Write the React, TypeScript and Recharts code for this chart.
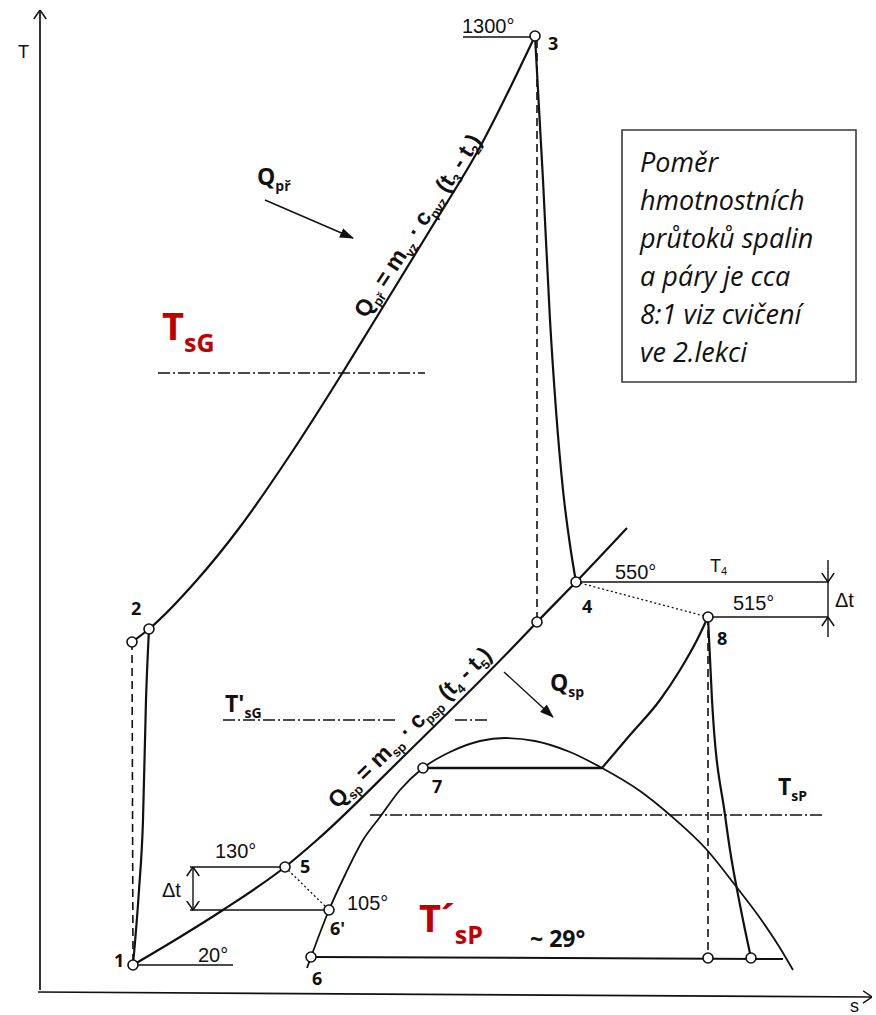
import React from 'react';
import { ComposedChart, Line, Scatter, XAxis, YAxis, ReferenceArea } from 'recharts';

type Pt = { s: number; T: number };
type Tag = Pt & { text: string };
type RichTag = Pt & { base: string; mark: string; sub: string };
type Term = [string, string];

// ---------- Gas turbine (Brayton) cycle, diagram units s / T ----------
const compression12: Pt[] = [
  { s: 133, T: 50 }, { s: 139, T: 125 }, { s: 143, T: 195 }, { s: 146, T: 315 }, { s: 149, T: 386 },
];
const compressionIdeal: Pt[] = [{ s: 132, T: 373 }, { s: 133, T: 55 }];
const combustion23: Pt[] = [
  { s: 132, T: 373 }, { s: 149, T: 386 }, { s: 197, T: 435 }, { s: 240, T: 488 }, { s: 290, T: 560 },
  { s: 343, T: 643 }, { s: 370, T: 687 }, { s: 430, T: 785 }, { s: 480, T: 868 }, { s: 535, T: 979 },
];
const expansion34: Pt[] = [
  { s: 535, T: 979 }, { s: 543, T: 835 }, { s: 550, T: 695 }, { s: 556, T: 605 },
  { s: 563, T: 525 }, { s: 570, T: 470 }, { s: 576, T: 433 },
];
const expansionIdeal: Pt[] = [{ s: 537, T: 975 }, { s: 537, T: 397 }];
const exhaustCooling: Pt[] = [
  { s: 133, T: 50 }, { s: 180, T: 78 }, { s: 223, T: 105 }, { s: 285, T: 148 }, { s: 317, T: 175 },
  { s: 400, T: 255 }, { s: 517, T: 372 }, { s: 537, T: 393 }, { s: 576, T: 433 }, { s: 627, T: 487 },
];

// ---------- Steam (Rankine) cycle ----------
const saturationDome: Pt[] = [
  { s: 307, T: 47 }, { s: 311, T: 58 }, { s: 329, T: 105 }, { s: 345, T: 140 }, { s: 363, T: 175 },
  { s: 380, T: 198 }, { s: 400, T: 225 }, { s: 423, T: 247 }, { s: 450, T: 263 }, { s: 480, T: 274 },
  { s: 505, T: 277 }, { s: 535, T: 274 }, { s: 570, T: 263 }, { s: 602, T: 247 }, { s: 640, T: 224 },
  { s: 670, T: 200 }, { s: 707, T: 165 }, { s: 735, T: 130 }, { s: 760, T: 97 }, { s: 780, T: 67 },
  { s: 793, T: 45 },
];
const evaporation: Pt[] = [{ s: 423, T: 247 }, { s: 602, T: 247 }];
const superheating: Pt[] = [
  { s: 602, T: 247 }, { s: 630, T: 280 }, { s: 660, T: 315 }, { s: 680, T: 345 }, { s: 697, T: 375 }, { s: 708, T: 398 },
];
const steamExpansion: Pt[] = [
  { s: 708, T: 398 }, { s: 712, T: 315 }, { s: 725, T: 200 }, { s: 730, T: 165 }, { s: 740, T: 110 }, { s: 751, T: 57 },
];
const steamExpansionIdeal: Pt[] = [{ s: 708, T: 398 }, { s: 708, T: 57 }];
const condensation: Pt[] = [{ s: 311, T: 58 }, { s: 783, T: 56 }];

// approach / pinch connectors
const approachHot: Pt[] = [{ s: 576, T: 433 }, { s: 708, T: 398 }];
const pinchCold: Pt[] = [{ s: 285, T: 148 }, { s: 329, T: 105 }];

// temperature leaders
const leader1300: Pt[] = [{ s: 463, T: 978 }, { s: 533, T: 978 }];
const leaderT4: Pt[] = [{ s: 578, T: 433 }, { s: 828, T: 433 }];
const leader515: Pt[] = [{ s: 710, T: 398 }, { s: 828, T: 398 }];
const leader130: Pt[] = [{ s: 190, T: 148 }, { s: 283, T: 148 }];
const leader105: Pt[] = [{ s: 190, T: 105 }, { s: 327, T: 105 }];
const leader20: Pt[] = [{ s: 136, T: 50 }, { s: 233, T: 50 }];

// Δt dimension marks
const deltaHotUpper: Pt[] = [{ s: 828, T: 455 }, { s: 828, T: 433 }];
const deltaHotMid: Pt[] = [{ s: 828, T: 433 }, { s: 828, T: 398 }];
const deltaHotLower: Pt[] = [{ s: 828, T: 378 }, { s: 828, T: 398 }];
const deltaCold: Pt[] = [{ s: 193, T: 105 }, { s: 193, T: 148 }];

// mean thermodynamic temperatures
const meanGas: Pt[] = [{ s: 158, T: 642 }, { s: 425, T: 642 }];
const meanExhaustA: Pt[] = [{ s: 223, T: 295 }, { s: 397, T: 295 }];
const meanExhaustB: Pt[] = [{ s: 455, T: 295 }, { s: 490, T: 295 }];
const meanSteam: Pt[] = [{ s: 370, T: 200 }, { s: 823, T: 200 }];

// heat flow arrows
const heatInArrow: Pt[] = [{ s: 265, T: 815 }, { s: 353, T: 777 }];
const heatOutArrow: Pt[] = [{ s: 504, T: 343 }, { s: 553, T: 298 }];

// axes
const axisT: Pt[] = [{ s: 40, T: 25 }, { s: 40, T: 1005 }];
const axisS: Pt[] = [{ s: 38, T: 23 }, { s: 872, T: 18 }];

// state points
const statePoints: Pt[] = [
  { s: 133, T: 50 }, { s: 132, T: 373 }, { s: 149, T: 386 }, { s: 535, T: 979 }, { s: 576, T: 433 },
  { s: 537, T: 393 }, { s: 708, T: 398 }, { s: 285, T: 148 }, { s: 329, T: 105 }, { s: 311, T: 58 },
  { s: 423, T: 247 }, { s: 708, T: 57 }, { s: 751, T: 57 },
];

// ---------- texts ----------
const pointNames: Tag[] = [
  { s: 114, T: 48, text: '1' }, { s: 131, T: 400, text: '2' }, { s: 548, T: 965, text: '3' },
  { s: 582, T: 402, text: '4' }, { s: 300, T: 142, text: '5' }, { s: 330, T: 80, text: "6'" },
  { s: 312, T: 30, text: '6' }, { s: 432, T: 222, text: '7' }, { s: 717, T: 370, text: '8' },
];
const tempLabels: Tag[] = [
  { s: 462, T: 982, text: '1300°' }, { s: 615, T: 436, text: '550°' }, { s: 733, T: 405, text: '515°' },
  { s: 215, T: 157, text: '130°' }, { s: 347, T: 105, text: '105°' }, { s: 198, T: 53, text: '20°' },
  { s: 162, T: 118, text: 'Δt' }, { s: 835, T: 408, text: 'Δt' },
];
const axisNames: Tag[] = [{ s: 18, T: 957, text: 'T' }, { s: 850, T: 3, text: 's' }];
const exhaustTag: RichTag[] = [{ s: 710, T: 443, base: 'T', mark: '', sub: '4' }];
const keyTemps: RichTag[] = [
  { s: 162, T: 675, base: 'T', mark: '', sub: 'sG' },
  { s: 419, T: 83, base: 'T', mark: '´', sub: 'sP' },
];
const symbolTags: RichTag[] = [
  { s: 225, T: 303, base: 'T', mark: "'", sub: 'sG' },
  { s: 778, T: 220, base: 'T', mark: '', sub: 'sP' },
  { s: 257, T: 830, base: 'Q', mark: '', sub: 'př' },
  { s: 550, T: 324, base: 'Q', mark: '', sub: 'sp' },
];
const condenserTemp: Tag[] = [{ s: 530, T: 68, text: '~ 29°' }];

const gasHeatTerms: Term[] = [['Q', 'př'], [' = m', 'vz'], [' · c', 'pvz'], [' (t', '3'], [' - t', '2'], [')', '']];
const exhaustHeatTerms: Term[] = [['Q', 'sp'], [' = m', 'sp'], [' · c', 'psp'], [' (t', '4'], [' - t', '5'], [')', '']];
const formulas = [
  { s: 424, T: 785, id: 'gas', terms: gasHeatTerms },
  { s: 415, T: 282, id: 'exhaust', terms: exhaustHeatTerms },
];

const noteLines: Tag[] = [
  { s: 640, T: 843, text: 'Poměr' },
  { s: 640, T: 805, text: 'hmotnostních' },
  { s: 640, T: 767, text: 'průtoků spalin' },
  { s: 640, T: 729, text: 'a páry je cca' },
  { s: 640, T: 691, text: '8:1 viz cvičení' },
  { s: 640, T: 653, text: 've 2.lekci' },
];

// ---------- styling ----------
const INK = '#111111';
const ACCENT = '#c00000';
const SCAN_FONT = "'Liberation Sans', Arial, sans-serif";
const BOLD_FONT = "'Open Sans', 'Noto Sans', sans-serif";
const TILT: Record<string, number> = { gas: -57, exhaust: -44.5 };

type StrokeOpts = {
  width?: number;
  dash?: string;
  curve?: 'linear' | 'monotoneX';
  head?: string;
  tail?: string;
};

const trace = (key: string, data: Pt[], o: StrokeOpts = {}) => (
  <Line
    key={key}
    data={data}
    dataKey="T"
    type={o.curve ?? 'linear'}
    stroke={INK}
    strokeWidth={o.width ?? 2}
    strokeDasharray={o.dash}
    markerEnd={o.head ? `url(#${o.head})` : undefined}
    markerStart={o.tail ? `url(#${o.tail})` : undefined}
    dot={false}
    activeDot={false}
    legendType="none"
    isAnimationActive={false}
  />
);

const stateDot = (p: any) => (
  <circle cx={p.cx} cy={p.cy} r={5} fill="#fff" stroke={INK} strokeWidth={1.6} />
);

const plainText = (font: string, size: number, weight: number, color: string, italic = false) => (p: any) => (
  <text
    x={p.cx}
    y={p.cy}
    fontFamily={font}
    fontSize={size}
    fontWeight={weight}
    fontStyle={italic ? 'italic' : 'normal'}
    fill={color}
  >
    {p.payload.text}
  </text>
);

const richText = (font: string, size: number, subSize: number, drop: number, weight: number, color: string) => (p: any) => (
  <text x={p.cx} y={p.cy} fontFamily={font} fontWeight={weight} fill={color} style={{ whiteSpace: 'pre' }}>
    <tspan fontSize={size}>{p.payload.base + p.payload.mark}</tspan>
    <tspan fontSize={subSize} dy={drop}>{p.payload.sub}</tspan>
  </text>
);

const formulaText = (p: any) => {
  const terms: Term[] = p.payload.terms;
  const angle = TILT[p.payload.id] ?? 0;
  const parts: React.ReactNode[] = [];
  terms.forEach(([base, sub], i) => {
    parts.push(
      <tspan key={`b${i}`} fontSize={23} dy={i === 0 ? 0 : -5}>
        {base}
      </tspan>,
    );
    parts.push(
      <tspan key={`s${i}`} fontSize={13} dy={5}>
        {sub}
      </tspan>,
    );
  });
  return (
    <text
      x={p.cx}
      y={p.cy}
      textAnchor="middle"
      transform={`rotate(${angle} ${p.cx} ${p.cy})`}
      fontFamily={SCAN_FONT}
      fontWeight={700}
      fill={INK}
      letterSpacing={-0.2}
      style={{ whiteSpace: 'pre' }}
    >
      {parts}
    </text>
  );
};

const Markers = () => (
  <svg width={0} height={0} style={{ position: 'absolute' }} aria-hidden="true">
    <defs>
      <marker
        id="chevron"
        viewBox="0 0 10 14"
        refX={9.5}
        refY={7}
        markerWidth={10}
        markerHeight={14}
        markerUnits="userSpaceOnUse"
        orient="auto-start-reverse"
      >
        <path d="M0.5,0.8 L9.5,7 L0.5,13.2" fill="none" stroke={INK} strokeWidth={1.5} />
      </marker>
      <marker
        id="solid"
        viewBox="0 0 14 10"
        refX={13}
        refY={5}
        markerWidth={14}
        markerHeight={10}
        markerUnits="userSpaceOnUse"
        orient="auto"
      >
        <path d="M0,0 L14,5 L0,10 z" fill={INK} />
      </marker>
    </defs>
  </svg>
);

export default function App() {
  return (
    <div style={{ position: 'absolute', left: 0, top: 0, width: 876, height: 1015, background: '#fff' }}>
      <Markers />
      <ComposedChart width={876} height={1015} margin={{ top: 0, right: 0, bottom: 0, left: 0 }}>
        <XAxis type="number" dataKey="s" domain={[0, 876]} allowDataOverflow hide />
        <YAxis type="number" dataKey="T" domain={[0, 1015]} allowDataOverflow hide />

        <ReferenceArea x1={622} x2={856} y1={633} y2={885} fill="#fff" fillOpacity={1} stroke="#3a3a3a" strokeWidth={1.6} />

        {trace('axisT', axisT, { width: 1.7, head: 'chevron' })}
        {trace('axisS', axisS, { width: 1.7, head: 'chevron' })}

        {trace('meanGas', meanGas, { width: 1.3, dash: '12 3 2 3' })}
        {trace('meanExhaustA', meanExhaustA, { width: 1.3, dash: '12 3 2 3' })}
        {trace('meanExhaustB', meanExhaustB, { width: 1.3, dash: '12 3 2 3' })}
        {trace('meanSteam', meanSteam, { width: 1.3, dash: '12 3 2 3' })}

        {trace('compressionIdeal', compressionIdeal, { width: 1.6, dash: '8 5' })}
        {trace('expansionIdeal', expansionIdeal, { width: 1.6, dash: '8 5' })}
        {trace('steamExpansionIdeal', steamExpansionIdeal, { width: 1.6, dash: '8 5' })}
        {trace('approachHot', approachHot, { width: 1.3, dash: '2 2.5' })}
        {trace('pinchCold', pinchCold, { width: 1.3, dash: '2 2.5' })}

        {trace('leader1300', leader1300, { width: 1.3 })}
        {trace('leaderT4', leaderT4, { width: 1.3 })}
        {trace('leader515', leader515, { width: 1.3 })}
        {trace('leader130', leader130, { width: 1.3 })}
        {trace('leader105', leader105, { width: 1.3 })}
        {trace('leader20', leader20, { width: 1.3 })}

        {trace('deltaHotUpper', deltaHotUpper, { width: 1.4, head: 'chevron' })}
        {trace('deltaHotMid', deltaHotMid, { width: 1.4 })}
        {trace('deltaHotLower', deltaHotLower, { width: 1.4, head: 'chevron' })}
        {trace('deltaCold', deltaCold, { width: 1.4, head: 'chevron', tail: 'chevron' })}

        {trace('heatInArrow', heatInArrow, { width: 1.4, head: 'solid' })}
        {trace('heatOutArrow', heatOutArrow, { width: 1.4, head: 'solid' })}

        {trace('compression12', compression12, { width: 2.2, curve: 'monotoneX' })}
        {trace('combustion23', combustion23, { width: 2.2, curve: 'monotoneX' })}
        {trace('expansion34', expansion34, { width: 2.2, curve: 'monotoneX' })}
        {trace('exhaustCooling', exhaustCooling, { width: 2.2, curve: 'monotoneX' })}
        {trace('saturationDome', saturationDome, { width: 1.8, curve: 'monotoneX' })}
        {trace('evaporation', evaporation, { width: 2.4 })}
        {trace('superheating', superheating, { width: 2.2, curve: 'monotoneX' })}
        {trace('steamExpansion', steamExpansion, { width: 2.2, curve: 'monotoneX' })}
        {trace('condensation', condensation, { width: 2 })}

        <Scatter data={statePoints} dataKey="T" shape={stateDot} legendType="none" isAnimationActive={false} />

        <Scatter data={pointNames} dataKey="T" shape={plainText(BOLD_FONT, 18, 700, INK)} legendType="none" isAnimationActive={false} />
        <Scatter data={tempLabels} dataKey="T" shape={plainText(SCAN_FONT, 20, 400, INK)} legendType="none" isAnimationActive={false} />
        <Scatter data={axisNames} dataKey="T" shape={plainText(SCAN_FONT, 18, 400, INK)} legendType="none" isAnimationActive={false} />
        <Scatter data={exhaustTag} dataKey="T" shape={richText(SCAN_FONT, 18, 11, 3, 400, INK)} legendType="none" isAnimationActive={false} />
        <Scatter data={keyTemps} dataKey="T" shape={richText(BOLD_FONT, 38, 25, 12, 700, ACCENT)} legendType="none" isAnimationActive={false} />
        <Scatter data={symbolTags} dataKey="T" shape={richText(BOLD_FONT, 23, 14, 6, 700, INK)} legendType="none" isAnimationActive={false} />
        <Scatter data={condenserTemp} dataKey="T" shape={plainText(BOLD_FONT, 23, 700, INK)} legendType="none" isAnimationActive={false} />
        <Scatter data={formulas} dataKey="T" shape={formulaText} legendType="none" isAnimationActive={false} />
        <Scatter data={noteLines} dataKey="T" shape={plainText(BOLD_FONT, 27, 400, INK, true)} legendType="none" isAnimationActive={false} />
      </ComposedChart>
    </div>
  );
}
